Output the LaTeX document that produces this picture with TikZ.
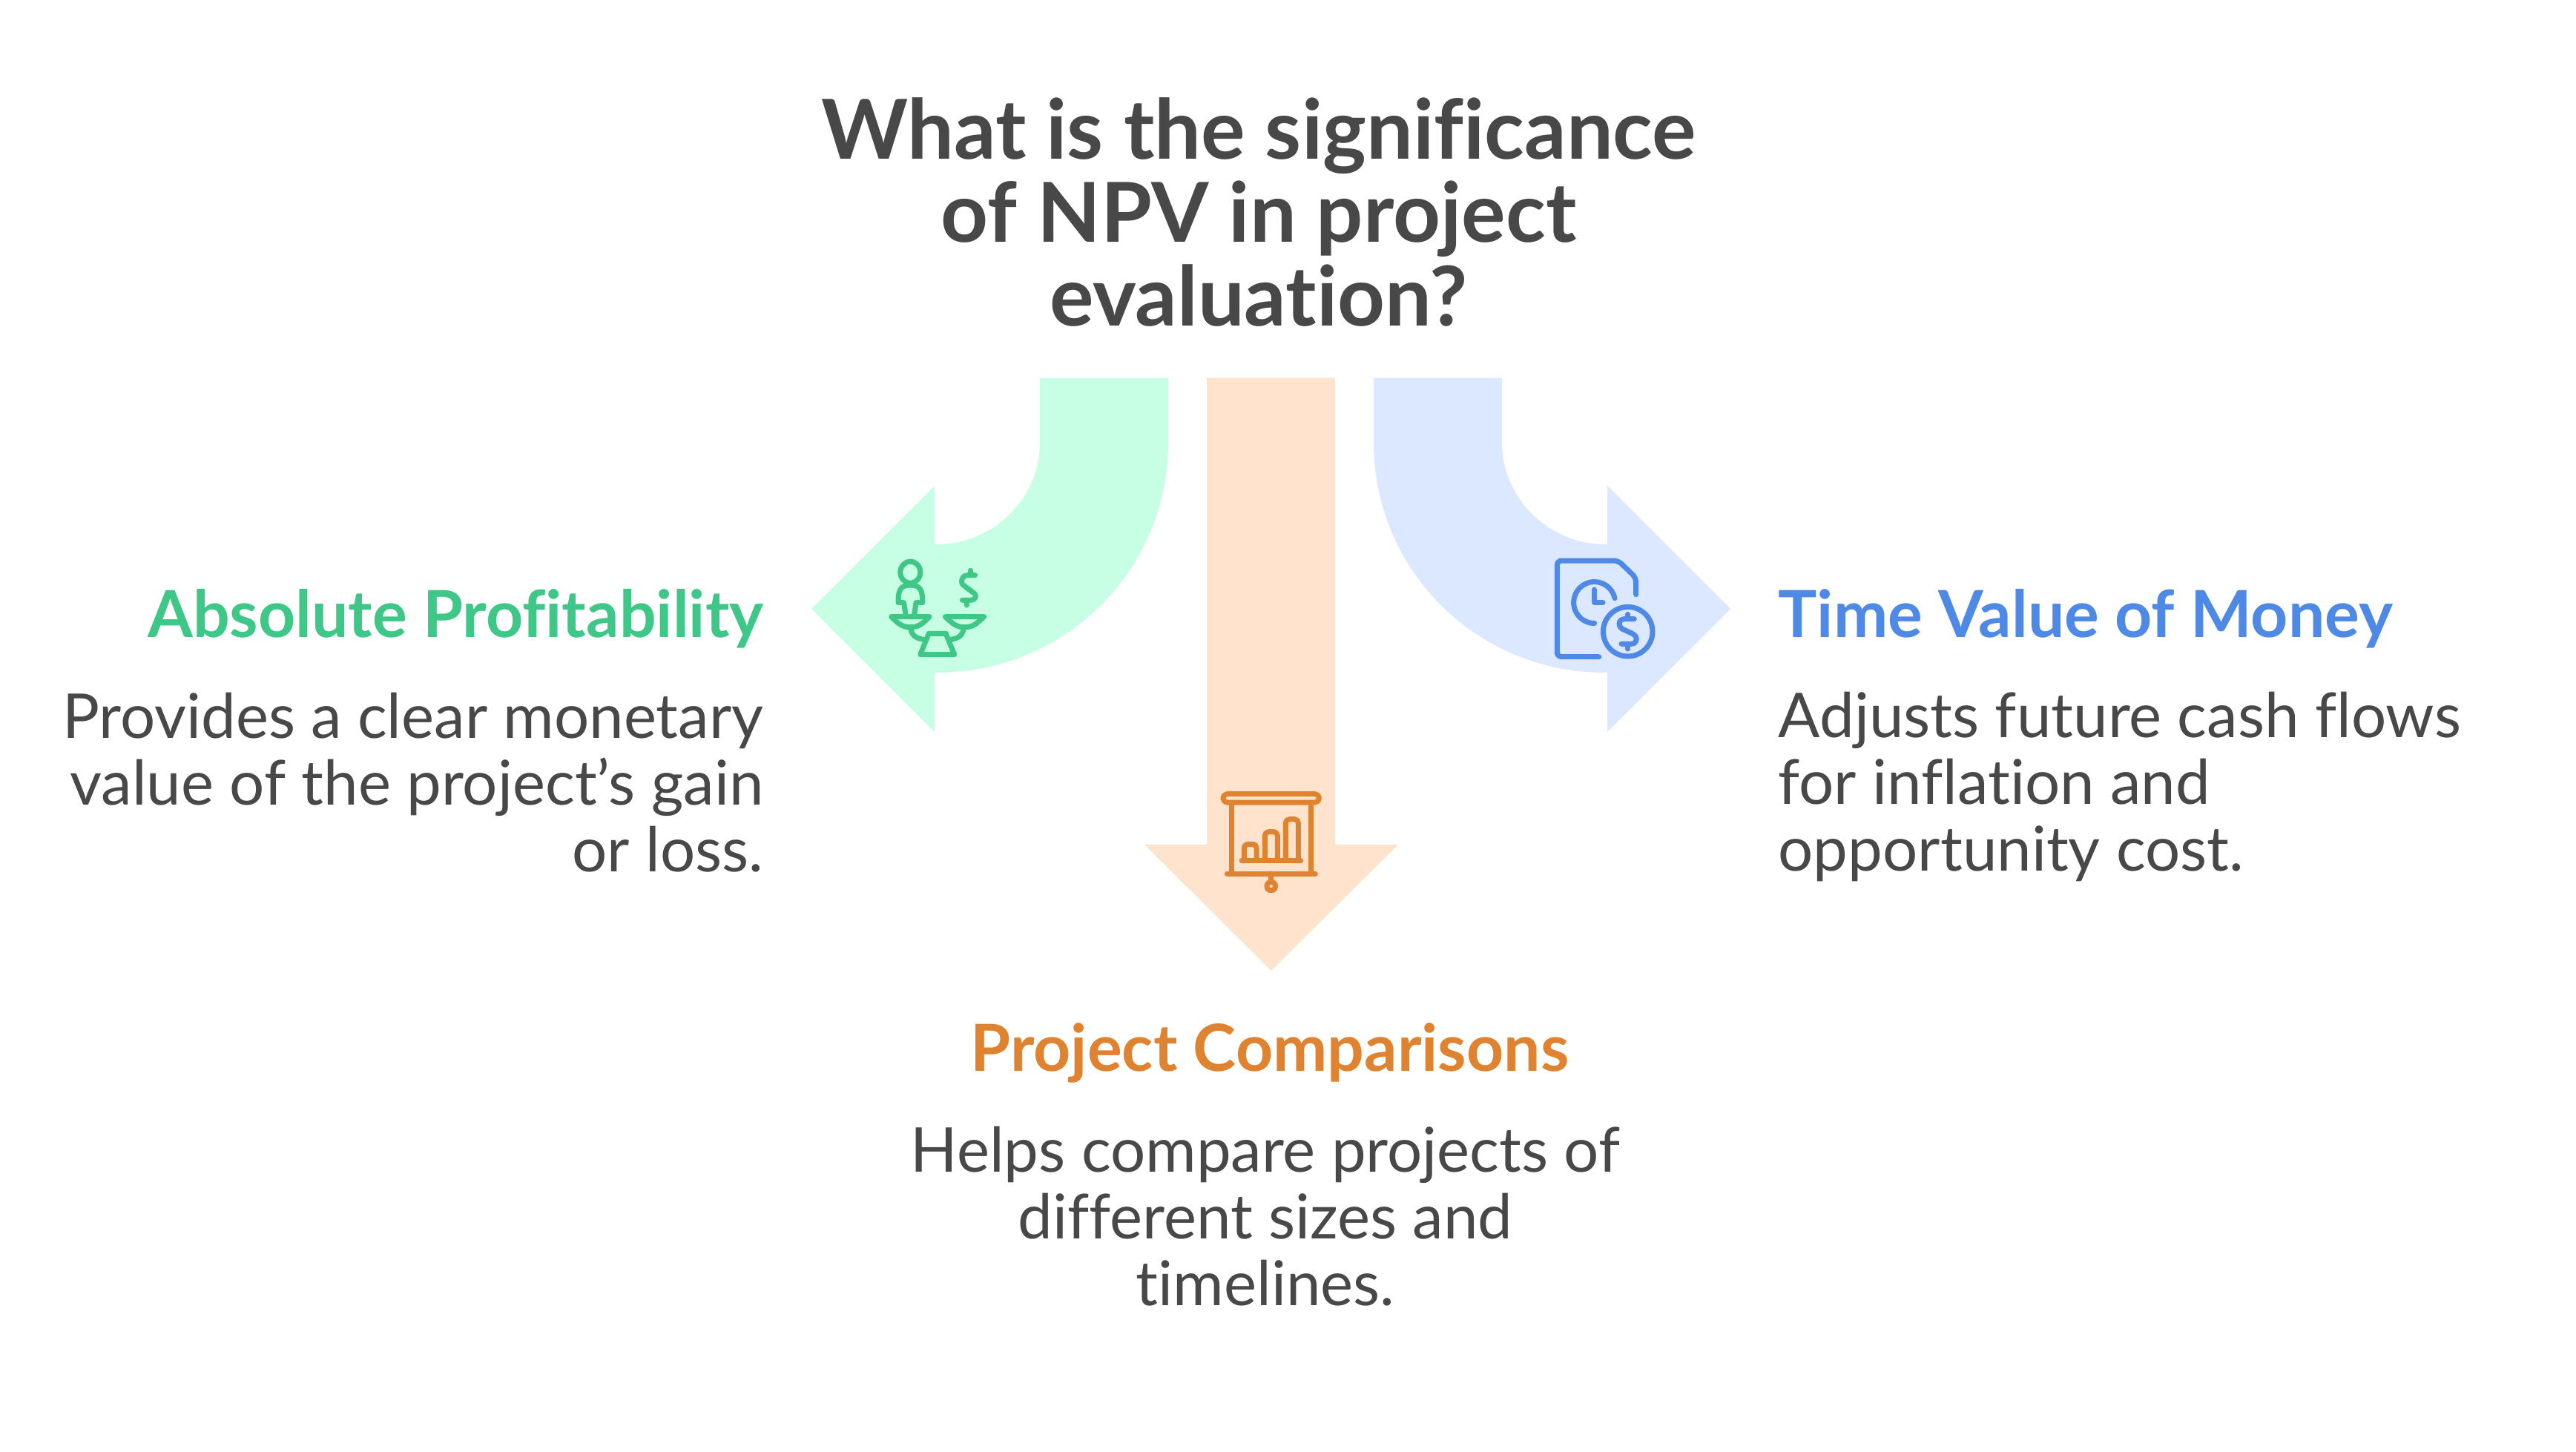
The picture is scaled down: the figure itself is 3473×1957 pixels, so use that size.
\documentclass[tikz,border=0pt]{standalone}
\usepackage{fontspec}
\setmainfont{Lato}[Ligatures=NoCommon]
\usepackage{tikz}
\usetikzlibrary{calc,positioning}
\definecolor{greenfill}{HTML}{C7FFE5}
\definecolor{greenline}{HTML}{3EC787}
\definecolor{orangefill}{HTML}{FFE3CC}
\definecolor{orangeline}{HTML}{E08330}
\definecolor{bluefill}{HTML}{DCE8FF}
\definecolor{blueline}{HTML}{4F89E6}
\definecolor{inktext}{HTML}{484848}
\tikzset{
	titletext/.style={text=inktext, align=center, font=\fontsize{31.7}{31.9}\selectfont\bfseries, inner sep=0pt},
	headtext/.style={font=\fontsize{24.9}{30}\selectfont\bfseries, inner sep=0pt},
	desctext/.style={text=inktext, font=\fontsize{23.7}{25.6}\selectfont, inner sep=0pt},
	icon/.style={line width=0.07cm, line cap=round, line join=round}
}
\begin{document}
\begin{tikzpicture}[x=0.01cm, y=-0.01cm]
	\useasboundingbox (0, 0) rectangle (3473, 1957);

	\node[titletext] (question) at (1697, 286) {What is the significance\\of NPV in project\\evaluation?};

	% arrows
	\fill[greenfill] (1402, 509.5) -- (1402, 597) .. controls (1402, 672.7) and (1338.4, 734) .. (1263, 734) .. controls (1260, 734) .. (1260, 731) -- (1260, 655) -- (1094, 821) -- (1260, 987) -- (1260, 910) .. controls (1260, 907) .. (1263, 907) .. controls (1437, 907) and (1575, 768) .. (1575, 597) -- (1575, 509.5) -- cycle;
	\fill[orangefill] (1627, 509.5) -- (1627, 1136) .. controls (1627, 1139) .. (1624, 1139) -- (1543, 1139) -- (1713.7, 1309) -- (1885, 1139) -- (1803, 1139) .. controls (1800, 1139) .. (1800, 1136) -- (1800, 509.5) -- cycle;
	\fill[bluefill] (2025, 509.5) -- (2025, 597) .. controls (2025, 672.7) and (2088.6, 734) .. (2164, 734) .. controls (2167, 734) .. (2167, 731) -- (2167, 655) -- (2333, 821) -- (2167, 987) -- (2167, 910) .. controls (2167, 907) .. (2164, 907) .. controls (1990, 907) and (1852, 768) .. (1852, 597) -- (1852, 509.5) -- cycle;

	% scale icon
	\begin{scope}[icon, draw=greenline]
		\draw (1227.3, 771.7) ellipse (13.5 and 14.5);
		\draw (1221.6, 831.7) -- (1218.5, 812.7) -- (1211, 812.7) .. controls (1211, 797) and (1213, 789) .. (1227.3, 789) .. controls (1241.6, 789) and (1243.8, 797) .. (1243.8, 812.7) -- (1235, 812.7) -- (1232.3, 831.7);
		\draw (1201.7, 831.7) -- (1253, 831.7) .. controls (1243, 842) and (1238, 845.7) .. (1227.3, 845.7) .. controls (1217, 845.7) and (1212, 842) .. cycle;
		\draw (1274.4, 831.7) -- (1326.5, 831.7) .. controls (1316, 842) and (1311, 845.7) .. (1300.4, 845.7) .. controls (1290, 845.7) and (1285, 842) .. cycle;
		\draw (1252.2, 854.3) -- (1275.2, 854.3) -- (1286.7, 882.7) -- (1240.7, 882.7) -- cycle;
		\draw (1227.7, 848) .. controls (1230, 858) and (1235, 860.5) .. (1246.5, 862.7);
		\draw (1299.3, 848) .. controls (1297, 858) and (1292, 860.5) .. (1281, 862.7);
		\draw (1314.6, 775.7) -- (1304.6, 775.7) .. controls (1296, 775.7) and (1294, 787) .. (1300, 790) -- (1312, 799) .. controls (1318, 803) and (1316, 809.3) .. (1307.7, 809.3) -- (1297.4, 809.3);
		\draw (1308.5, 769.3) -- (1308.5, 775.7);
		\draw (1303.1, 809.3) -- (1303.1, 816);
	\end{scope}

	% screen icon
	\begin{scope}[icon, draw=orangeline]
		\draw[rounded corners=1.5pt] (1649, 1070.7) rectangle (1778.3, 1082);
		\draw (1660.3, 1082) -- (1660.3, 1178);
		\draw (1767.3, 1082) -- (1767.3, 1178);
		\draw (1654.3, 1178) -- (1773.3, 1178);
		\draw (1713.7, 1178) -- (1713.7, 1186.7);
		\draw (1713.7, 1195) circle (5.8);
		\draw (1674, 1160.7) -- (1753.7, 1160.7);
		\draw[rounded corners=1.4pt] (1677.3, 1160.7) -- (1677.3, 1138.3) -- (1694, 1138.3) -- (1694, 1160.7);
		\draw[rounded corners=1.4pt] (1705.3, 1160.7) -- (1705.3, 1121.7) -- (1722.3, 1121.7) -- (1722.3, 1160.7);
		\draw[rounded corners=1.4pt] (1733.3, 1160.7) -- (1733.3, 1104.7) -- (1750.3, 1104.7) -- (1750.3, 1160.7);
	\end{scope}

	% document icon
	\begin{scope}[icon, draw=blueline]
		\draw[rounded corners=1.7pt] (2155.7, 885.7) -- (2099.3, 885.7) -- (2099.3, 756) -- (2181.7, 756) -- (2205.7, 779.3) -- (2205.7, 801.7);
		\draw (2177, 806.7) arc[start angle=-12, end angle=-270, radius=28];
		\draw (2149.3, 795) -- (2149.3, 812.3) -- (2161, 812.3);
		\draw (2194.7, 851.7) circle (33.3);
		\draw (2203.3, 834.7) -- (2190, 834.7) .. controls (2181, 834.7) and (2181, 846) .. (2189, 849) -- (2200, 854) .. controls (2209, 858) and (2208, 868.3) .. (2199, 868.3) -- (2186, 868.3);
		\draw (2194.7, 828.3) -- (2194.7, 834.7);
		\draw (2194.7, 868.3) -- (2194.7, 875);
	\end{scope}

	\node[headtext, text=greenline, anchor=east] (profit) at (1030, 834) {Absolute Profitability};
	\node[desctext, align=right, anchor=east] (profitdesc) at (1030, 1055) {Provides a clear monetary\\value of the project’s gain\\or loss.};

	\node[headtext, text=orangeline] (compare) at (1712, 1420) {Project Comparisons};
	\node[desctext, align=center] (comparedesc) at (1706, 1640) {Helps compare projects of\\different sizes and\\timelines.};

	\node[headtext, text=blueline, anchor=west] (money) at (2397, 834) {Time Value of Money};
	\node[desctext, align=left, anchor=west] (moneydesc) at (2397, 1061) {Adjusts future cash flows\\for inflation and\\opportunity cost.};
\end{tikzpicture}
\end{document}
